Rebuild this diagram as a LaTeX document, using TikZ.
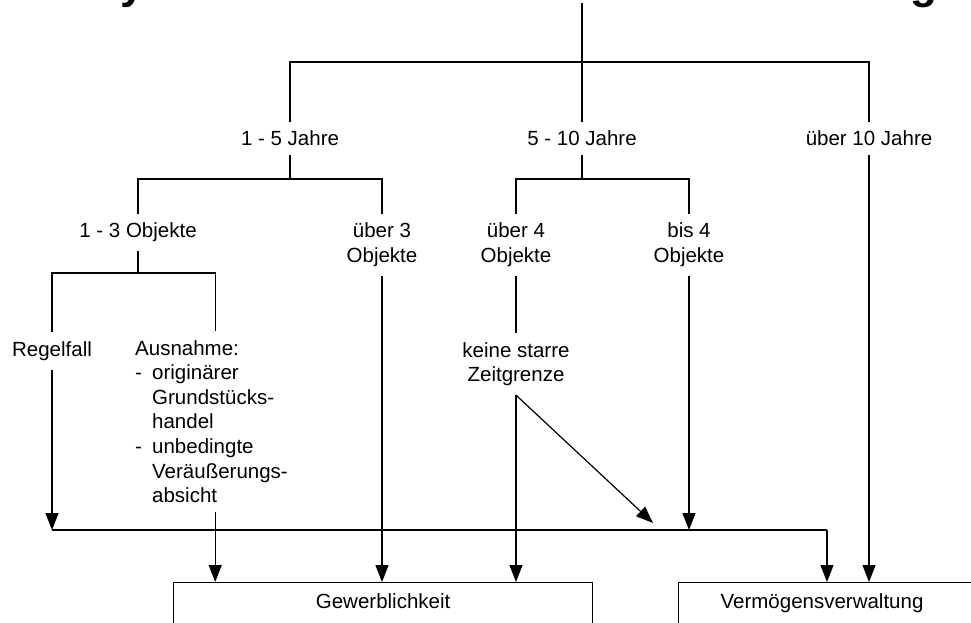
\documentclass[tikz,border=0pt]{standalone}
\usepackage{fontspec}
\setmainfont{Liberation Sans}
\usetikzlibrary{arrows.meta}
\newcommand\lblsize{\fontsize{20.5pt}{24.6pt}\selectfont}
\begin{document}
\begin{tikzpicture}[x=1pt,y=-1pt,
  wire/.style={line width=1.2pt},
  arr/.style={wire,-{Triangle[length=17pt,width=13pt]}},
  lbl/.style={font=\lblsize, align=center, inner xsep=2pt, inner ysep=9pt, anchor=north},
  outcome/.style={draw, line width=1.2pt, anchor=north west, font=\lblsize,
    text height=15pt, text depth=40pt, inner ysep=11pt, inner xsep=0pt},
  frag/.style={font=\fontsize{44pt}{44pt}\selectfont\bfseries, inner sep=0pt, anchor=base west}]

\useasboundingbox (0,0) rectangle (971,622);
\clip (0,0) rectangle (971,622);

% heading, mostly above the visible area
\node[frag] (ty) at (120,-2) {y};
\node[frag] (tg) at (910,-2) {g};

% holding period
\node[lbl] (n15)  at (290,121.5) {1 - 5 Jahre};
\node[lbl] (n510) at (582,121.5) {5 - 10 Jahre};
\node[lbl] (nu10) at (869,121.5) {über 10 Jahre};

% number of objects
\node[lbl] (n13) at (138,213.5) {1 - 3 Objekte};
\node[lbl] (nu3) at (382,213.5) {über 3\\Objekte};
\node[lbl] (nu4) at (516,213.5) {über 4\\Objekte};
\node[lbl] (nb4) at (689,213.5) {bis 4\\Objekte};

% special cases
\node[lbl] (regel) at (52,332) {Regelfall};
\node[lbl, align=left, anchor=north west, inner xsep=0pt, text width=160pt] (ausn) at (135,331)
  {Ausnahme:\\\makebox[17pt][l]{-}originärer\\\hspace*{17pt}Grundstücks-\\\hspace*{17pt}handel\\\makebox[17pt][l]{-}unbedingte\\\hspace*{17pt}Veräußerungs-\\\hspace*{17pt}absicht};
\node[lbl] (ks) at (516,333) {keine starre\\Zeitgrenze};

% outcomes
\node[outcome, minimum width=419pt, align=center] (gb) at (173,582) {Gewerblichkeit};
\node[outcome, text width=340pt, align=left] (vv) at (678,582) {\hspace*{42pt}Vermögensverwaltung};

% junctions
\coordinate (root) at (582,3);
\coordinate (f0) at (582,62);
\coordinate (f1) at (290,179);
\coordinate (f2) at (582,179);
\coordinate (f3) at (138,273);
\coordinate (hbL) at (52,530);
\coordinate (hbR) at (827,530);
\coordinate (dt) at (653,523);

% tree
\draw[wire] (root) -- (f0);
\draw[wire] (n15.north) |- (f0) -| (nu10.north);
\draw[wire] (f0) -- (n510.north);
\draw[wire] (n15.south) -- (f1);
\draw[wire] (n13.north) |- (f1) -| (nu3.north);
\draw[wire] (n510.south) -- (f2);
\draw[wire] (nu4.north) |- (f2) -| (nb4.north);
\draw[wire] (n13.south) -- (f3);
\draw[wire] (regel.north) |- (f3) -| (ausn.north);
\draw[wire] (nu4.south) -- (ks.north);

% arrows into the outcomes
\draw[arr] (regel.south) -- (hbL);
\draw[wire] (hbL) -- (hbR);
\draw[arr] (hbR) -- (hbR |- vv.north);
\draw[arr] (ausn.south) -- (ausn.south |- gb.north);
\draw[arr] (nu3.south) -- (nu3.south |- gb.north);
\draw[arr] (ks.south) -- (ks.south |- gb.north);
\draw[arr] (ks.south) -- (dt);
\draw[arr] (nb4.south) -- (nb4.south |- hbR);
\draw[arr] (nu10.south) -- (nu10.south |- vv.north);
\end{tikzpicture}
\end{document}
